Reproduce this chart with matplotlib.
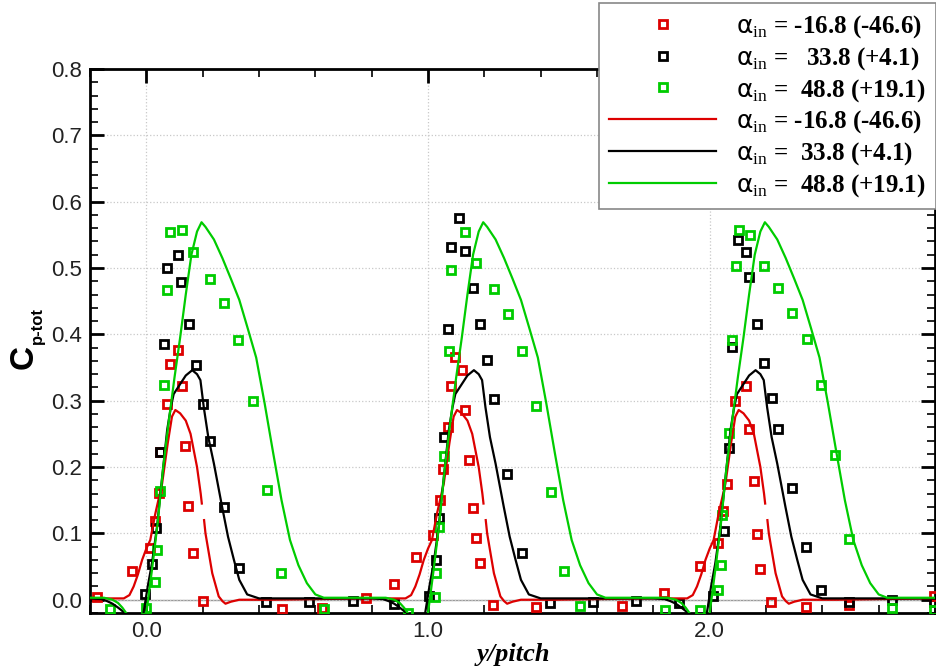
import numpy as np
import matplotlib
matplotlib.use("Agg")
import matplotlib.pyplot as plt
from matplotlib.ticker import MultipleLocator, FormatStrFormatter
from matplotlib.font_manager import FontProperties

plt.rcParams['font.family'] = ['Liberation Sans', 'DejaVu Sans']
plt.rcParams['mathtext.fontset'] = 'custom'
plt.rcParams['mathtext.rm'] = 'Liberation Serif'
plt.rcParams['mathtext.sf'] = 'DejaVu Sans'

RED, BLACK, GREEN = '#dd0000', '#000000', '#00cc00'

# experiments (y/pitch, Cp-tot)
exp_red_x = [-0.175, -0.051, 0.012, 0.032, 0.044, 0.05, 0.074, 0.085, 0.112, 0.125, 0.139, 0.148, 0.165, 0.2,
             0.48, 0.625, 0.779, 0.88, 0.957, 1.017, 1.044, 1.054, 1.07, 1.082, 1.095, 1.121, 1.133, 1.145,
             1.159, 1.171, 1.185, 1.232, 1.384, 1.687, 1.839, 1.966, 2.028, 2.049, 2.063, 2.09, 2.129, 2.14,
             2.156, 2.167, 2.179, 2.218, 2.343, 2.493, 2.796]
exp_red_y = [0.004, 0.043, 0.078, 0.119, 0.161, 0.223, 0.295, 0.355, 0.376, 0.322, 0.232, 0.141, 0.071, -0.002,
             -0.014, -0.012, 0.003, 0.023, 0.065, 0.098, 0.15, 0.197, 0.26, 0.322, 0.366, 0.347, 0.286, 0.211,
             0.138, 0.093, 0.055, -0.008, -0.011, -0.009, 0.01, 0.051, 0.086, 0.133, 0.174, 0.299, 0.322, 0.258,
             0.179, 0.099, 0.047, -0.004, -0.011, -0.008, 0.005]

exp_blk_x = [-0.004, 0.02, 0.036, 0.047, 0.064, 0.074, 0.113, 0.123, 0.151, 0.177, 0.202, 0.225, 0.275, 0.329,
             0.426, 0.578, 0.732, 0.88, 1.005, 1.028, 1.04, 1.056, 1.072, 1.082, 1.109, 1.133, 1.159, 1.185,
             1.209, 1.234, 1.282, 1.335, 1.432, 1.586, 1.74, 1.891, 2.013, 2.052, 2.067, 2.078, 2.102, 2.129,
             2.141, 2.167, 2.193, 2.22, 2.243, 2.294, 2.343, 2.396, 2.495, 2.646, 2.796]
exp_blk_y = [0.008, 0.054, 0.108, 0.223, 0.386, 0.5, 0.52, 0.479, 0.415, 0.354, 0.295, 0.24, 0.14, 0.048,
             -0.003, -0.004, -0.002, -0.006, 0.005, 0.06, 0.123, 0.245, 0.408, 0.531, 0.576, 0.525, 0.47, 0.416,
             0.361, 0.302, 0.189, 0.071, -0.005, -0.004, -0.002, -0.005, 0.006, 0.104, 0.228, 0.381, 0.542, 0.524,
             0.486, 0.416, 0.357, 0.304, 0.258, 0.169, 0.079, 0.014, -0.004, 0.0, -0.003]

exp_grn_x = [-0.128, -0.002, 0.03, 0.038, 0.047, 0.062, 0.074, 0.085, 0.125, 0.165, 0.225, 0.275, 0.326, 0.378,
             0.427, 0.477, 0.629, 0.93, 1.025, 1.028, 1.038, 1.056, 1.074, 1.083, 1.133, 1.171, 1.234, 1.284,
             1.335, 1.384, 1.435, 1.482, 1.539, 1.84, 1.966, 2.028, 2.04, 2.043, 2.067, 2.078, 2.093, 2.104,
             2.143, 2.193, 2.243, 2.294, 2.344, 2.395, 2.444, 2.495, 2.646, 2.796]
exp_grn_y = [-0.014, -0.012, 0.027, 0.075, 0.164, 0.323, 0.467, 0.554, 0.558, 0.524, 0.484, 0.447, 0.391, 0.3,
             0.165, 0.04, -0.014, -0.02, 0.004, 0.04, 0.109, 0.216, 0.375, 0.497, 0.554, 0.507, 0.469, 0.43,
             0.375, 0.292, 0.163, 0.043, -0.01, -0.015, -0.015, 0.014, 0.052, 0.128, 0.252, 0.392, 0.503, 0.558,
             0.55, 0.503, 0.47, 0.432, 0.393, 0.323, 0.218, 0.091, -0.013, -0.015]

# CFD, one pitch (repeated for the three passages)
cfd_red_x = [-0.2, -0.12, -0.08, -0.06, -0.045, -0.03, -0.015, 0.0, 0.014, 0.032, 0.056, 0.076, 0.091, 0.103,
             0.12, 0.14, 0.157, 0.18, 0.193, 0.197, 0.199, 0.205, 0.21, 0.234, 0.257, 0.27, 0.281, 0.3, 0.33,
             0.45, 0.6, 0.8]
cfd_red_y = [0.002, 0.002, 0.002, 0.007, 0.02, 0.038, 0.06, 0.077, 0.09, 0.13, 0.175, 0.236, 0.276, 0.286,
             0.281, 0.27, 0.25, 0.2, 0.16, 0.145, np.nan, 0.12, 0.1, 0.04, 0.005, -0.002, -0.006, -0.003, 0.0,
             0.0, 0.001, 0.002]

cfd_blk_x = [-0.2, -0.16, -0.14, -0.12, -0.1, -0.085, -0.075, -0.05, -0.03, -0.01, 0.005, 0.02, 0.038, 0.055,
             0.074, 0.087, 0.097, 0.12, 0.14, 0.163, 0.18, 0.192, 0.204, 0.22, 0.24, 0.269, 0.29, 0.311, 0.33,
             0.358, 0.4, 0.6, 0.8]
cfd_blk_y = [0.002, 0.001, -0.002, -0.006, -0.012, -0.017, -0.021, -0.045, -0.05, -0.02, 0.02, 0.055, 0.11,
             0.18, 0.256, 0.29, 0.31, 0.325, 0.338, 0.346, 0.34, 0.331, 0.29, 0.245, 0.205, 0.14, 0.095, 0.06,
             0.03, 0.008, 0.002, 0.002, 0.002]

cfd_grn_x = [-0.2, -0.15, -0.12, -0.1, -0.085, -0.07, -0.04, -0.01, 0.0, 0.02, 0.04, 0.06, 0.08, 0.1, 0.12,
             0.14, 0.16, 0.18, 0.196, 0.21, 0.24, 0.27, 0.3, 0.33, 0.36, 0.39, 0.42, 0.45, 0.48, 0.51, 0.54,
             0.57, 0.6, 0.63, 0.7, 0.8]
cfd_grn_y = [0.003, 0.003, 0.0, -0.005, -0.012, -0.021, -0.045, -0.045, -0.02, 0.045, 0.115, 0.2, 0.27, 0.335,
             0.395, 0.46, 0.52, 0.555, 0.569, 0.562, 0.543, 0.515, 0.484, 0.452, 0.409, 0.365, 0.296, 0.222,
             0.15, 0.09, 0.052, 0.025, 0.008, 0.003, 0.003, 0.003]

passages = [0, 1, 2]

labels_exp = [r'$\mathsf{\alpha}_{\mathrm{in}}$ = -16.8 (-46.6)',
              r'$\mathsf{\alpha}_{\mathrm{in}}$ =   33.8 (+4.1)',
              r'$\mathsf{\alpha}_{\mathrm{in}}$ =  48.8 (+19.1)']
labels_cfd = [r'$\mathsf{\alpha}_{\mathrm{in}}$ = -16.8 (-46.6)',
              r'$\mathsf{\alpha}_{\mathrm{in}}$ =  33.8 (+4.1)',
              r'$\mathsf{\alpha}_{\mathrm{in}}$ =  48.8 (+19.1)']


def tile(x, y):
    xs = np.concatenate([np.array(x) + p for p in passages])
    ys = np.concatenate([np.array(y) for p in passages])
    return xs, ys


fig = plt.figure(figsize=(9.36, 6.70), dpi=100)
ax = fig.add_axes([90 / 936, 1 - 613 / 670, 845 / 936, 544 / 670])

ax.axhline(0, color='#999999', lw=1.0, zorder=1)

handles = []
for ex, ey, c in [(exp_red_x, exp_red_y, RED), (exp_blk_x, exp_blk_y, BLACK), (exp_grn_x, exp_grn_y, GREEN)]:
    h, = ax.plot(ex, ey, ls='none', marker='s', ms=5.6, mfc='none', mec=c, mew=2.0, zorder=3)
    handles.append(h)
for cx, cy, c in [(cfd_red_x, cfd_red_y, RED), (cfd_blk_x, cfd_blk_y, BLACK), (cfd_grn_x, cfd_grn_y, GREEN)]:
    xs, ys = tile(cx, cy)
    h, = ax.plot(xs, ys, color=c, lw=1.6, zorder=4)
    handles.append(h)

ax.set_xlim(-0.2, 2.8)
ax.set_ylim(-0.02, 0.8)
ax.set_xticks([0, 1, 2])
ax.xaxis.set_major_formatter(FormatStrFormatter('%.1f'))
ax.xaxis.set_minor_locator(MultipleLocator(0.2))
ax.set_yticks(np.arange(0, 0.81, 0.1))
ax.yaxis.set_major_formatter(FormatStrFormatter('%.1f'))
ax.yaxis.set_minor_locator(MultipleLocator(0.02))
ax.tick_params(which='both', direction='in', top=True, right=True, labelsize=16, labelcolor='#222222')
ax.tick_params(which='major', length=10, width=2, pad=6)
ax.tick_params(which='minor', length=6, width=1.2)
for s in ax.spines.values():
    s.set_linewidth(2)
ax.grid(True, which='major', color='#c8c8c8', ls=':', lw=0.9)

# axis titles
fig.text(24 / 936, 1 - 357 / 670, 'C', rotation=90, fontsize=24, fontweight='bold', ha='center', va='center')
fig.text(37 / 936, 1 - 326 / 670, 'p-tot', rotation=90, fontsize=12, fontweight='bold', ha='center', va='center')
fig.text(513 / 936, 1 - 654 / 670, 'y/pitch', fontsize=19, fontweight='bold', fontstyle='italic',
         family='Liberation Serif', ha='center', va='center')

leg = fig.legend(handles, labels_exp + labels_cfd, loc='upper right', bbox_to_anchor=(1.0, 1 - 3 / 670),
                 bbox_transform=fig.transFigure,
                 prop=FontProperties(family='Liberation Serif', weight='bold', size=18),
                 frameon=True, fancybox=False, framealpha=1, edgecolor='#888888', borderaxespad=0,
                 handlelength=4.3, handletextpad=0.8, labelspacing=0.2, numpoints=1, borderpad=0.4)
leg.get_frame().set_linewidth(1.2)

fig.savefig('out.png', dpi=100)
